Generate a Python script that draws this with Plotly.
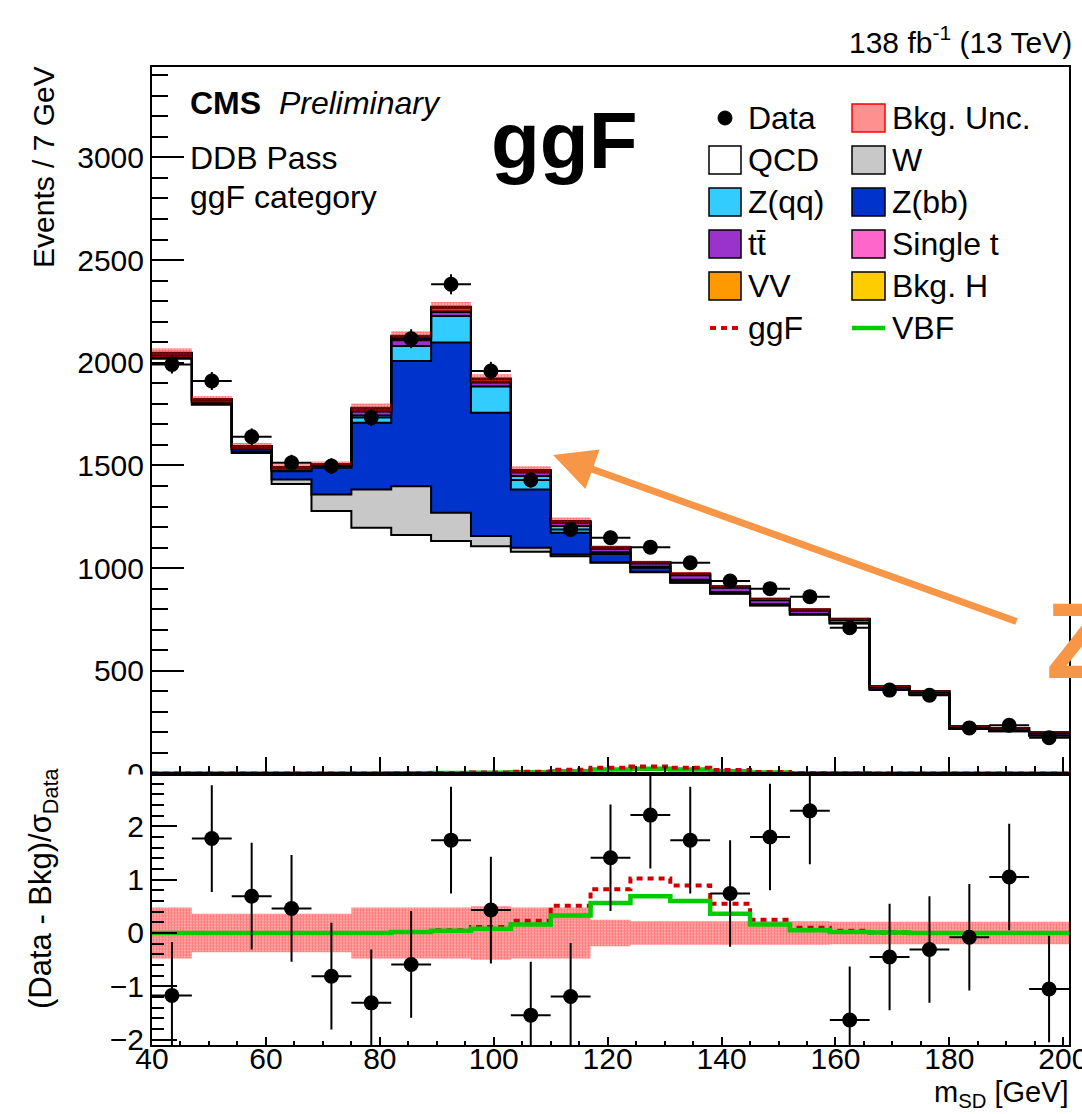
import numpy as np
import plotly.graph_objects as go

# ---------------------------------------------------------------- data
edges = list(range(40, 202, 7))                      # 23 bins of 7 GeV
centers = [e + 3.5 for e in edges[:-1]]
half_width = [3.5] * len(centers)

data_counts = [1992, 1911, 1640, 1513, 1497, 1733, 2117, 2382, 1960, 1429, 1188, 1148,
               1102, 1026, 937, 900, 861, 710, 406, 381, 222, 235, 174]

# background templates (stacked bottom -> top)
qcd = [2020, 1795, 1560, 1409, 1278, 1197, 1161, 1132, 1107, 1080, 1058, 1026,
       980, 929, 875, 818, 774, 731, 409, 385, 218, 206, 185]
w_jets = [5, 5, 6, 22, 81, 186, 238, 138, 49, 19, 8, 3,
          2, 1, 1, 1, 0, 0, 0, 0, 0, 0, 0]
z_bb = [8, 8, 12, 41, 130, 325, 609, 828, 601, 284, 106, 40,
        20, 10, 6, 4, 2, 1, 1, 1, 1, 1, 1]
z_qq = [4, 3, 4, 5, 3, 35, 73, 129, 127, 65, 33, 8,
        5, 3, 2, 1, 1, 1, 0, 0, 0, 0, 0]
ttbar = [8, 8, 9, 10, 10, 20, 29, 20, 20, 18, 15, 17,
         16, 22, 20, 20, 16, 15, 11, 11, 8, 11, 11]
single_t = [2, 2, 2, 3, 2, 5, 5, 4, 4, 4, 4, 4,
            3, 5, 5, 5, 4, 3, 3, 3, 2, 3, 3]
diboson = [1, 1, 1, 1, 1, 8, 10, 14, 10, 5, 3, 2,
           1, 2, 1, 1, 1, 1, 0, 0, 0, 0, 0]
bkg_higgs = [1, 0, 0, 1, 0, 5, 6, 8, 5, 3, 2, 2,
             2, 2, 2, 1, 1, 1, 1, 1, 1, 1, 1]

# background uncertainty (events) and signal yields (events)
bkg_unc = [21, 16, 15, 14, 14, 20, 22, 23, 21, 18, 17, 8,
           7, 7, 6, 6, 6, 5, 4, 4, 3, 3, 3]
ggf_events = [0, 0, 0, 0, 0, 0, 1, 2, 5, 9, 18, 28, 34, 28, 17, 7, 3, 1, 0, 0, 0, 0, 0]
vbf_events = [0, 0, 0, 0, 0, 0, 1, 2, 4, 6, 11, 19, 23, 19, 11, 5, 1, 1, 0, 0, 0, 0, 0]

# lower panel: (Data - Bkg)/sigma_Data
pull = [-1.17, 1.77, 0.69, 0.46, -0.81, -1.31, -0.59, 1.74, 0.43, -1.54, -1.19, 1.41,
        2.21, 1.74, 0.74, 1.80, 2.29, -1.63, -0.45, -0.31, -0.08, 1.05, -1.05]
pull_err = [1.0] * len(pull)
unc_pull = [0.48, 0.36, 0.36, 0.36, 0.36, 0.48, 0.48, 0.48, 0.50, 0.48, 0.48, 0.25,
            0.22, 0.22, 0.22, 0.22, 0.22, 0.21, 0.21, 0.21, 0.21, 0.21, 0.21]
ggf_pull = [0, 0, 0, 0, 0, 0, 0.02, 0.05, 0.11, 0.23, 0.51, 0.82,
            1.02, 0.89, 0.55, 0.25, 0.10, 0.04, 0.01, 0, 0, 0, 0]
vbf_pull = [0, 0, 0, 0, 0, 0, 0.02, 0.04, 0.08, 0.16, 0.33, 0.56,
            0.69, 0.60, 0.36, 0.16, 0.05, 0.02, 0.01, 0, 0, 0, 0]

components = [
    ("QCD", qcd, "#FFFFFF"),
    ("W", w_jets, "#C8C8C8"),
    ("Z(bb)", z_bb, "#0033CC"),
    ("Z(qq)", z_qq, "#33CCFF"),
    ("tt", ttbar, "#9933CC"),
    ("Single t", single_t, "#FF66CC"),
    ("VV", diboson, "#FF9900"),
    ("Bkg. H", bkg_higgs, "#FFCC00"),
]

# ---------------------------------------------------------------- geometry
W, H = 1082, 1114
L, R, T, B = 152, 1069, 67, 1045          # plot frame in pixels
SPLIT = 773.5                              # boundary between the two pads
FONT = "Liberation Sans, Arial, Helvetica, sans-serif"
FS = 32          # text / legend
TICK_FS = 30     # axis tick labels
RED_DOT = "#CC0000"
GREEN = "#00CC00"
HATCH = dict(shape=".", fgcolor="#FF0000", bgcolor="rgba(0,0,0,0)", size=3, solidity=0.8)


def xp(px):
    return (px - L) / (R - L)


def yp(py):
    return (B - py) / (B - T)


def steps(vals):
    v = list(vals)
    return v + [v[-1]]


pad_split = yp(SPLIT)
fig = go.Figure()

# ---------------------------------------------------------------- stacked backgrounds
cum = np.zeros(len(centers))
for i, (name, vals, color) in enumerate(components):
    cum = cum + np.array(vals, dtype=float)
    fig.add_trace(go.Scatter(
        x=edges, y=steps(cum), mode="lines", line=dict(shape="hv", color="black", width=2),
        fill="tozeroy" if i == 0 else "tonexty", fillcolor=color,
        name=name, showlegend=False, hoverinfo="skip", xaxis="x", yaxis="y"))
total_bkg = cum

# background uncertainty band on top of the stack
lo = total_bkg - np.array(bkg_unc)
hi = total_bkg + np.array(bkg_unc)
fig.add_trace(go.Scatter(x=edges, y=steps(lo), mode="lines", line=dict(shape="hv", width=0),
                         showlegend=False, hoverinfo="skip", xaxis="x", yaxis="y"))
fig.add_trace(go.Scatter(
    x=edges, y=steps(hi), mode="lines", line=dict(shape="hv", width=0),
    fill="tonexty", fillcolor="rgba(0,0,0,0)", fillpattern=HATCH,
    showlegend=False, hoverinfo="skip", xaxis="x", yaxis="y"))

# signals in the upper pad
fig.add_trace(go.Scatter(x=edges, y=steps(vbf_events), mode="lines",
                         line=dict(shape="hv", color=GREEN, width=4.5),
                         showlegend=False, hoverinfo="skip", xaxis="x", yaxis="y"))
fig.add_trace(go.Scatter(x=edges, y=steps(ggf_events), mode="lines",
                         line=dict(shape="hv", color=RED_DOT, width=4, dash="6px,5px"),
                         showlegend=False, hoverinfo="skip", xaxis="x", yaxis="y"))

# data
fig.add_trace(go.Scatter(
    x=centers, y=data_counts, mode="markers",
    marker=dict(color="black", size=15),
    error_x=dict(type="data", array=half_width, color="black", thickness=2, width=0),
    error_y=dict(type="data", array=np.sqrt(data_counts), color="black", thickness=2, width=0),
    showlegend=False, hoverinfo="skip", xaxis="x", yaxis="y"))

# ---------------------------------------------------------------- lower pad
ulo = -np.array(unc_pull)
uhi = np.array(unc_pull)
fig.add_trace(go.Scatter(x=edges, y=steps(ulo), mode="lines", line=dict(shape="hv", width=0),
                         showlegend=False, hoverinfo="skip", xaxis="x2", yaxis="y2"))
fig.add_trace(go.Scatter(
    x=edges, y=steps(uhi), mode="lines", line=dict(shape="hv", width=0),
    fill="tonexty", fillcolor="rgba(0,0,0,0)", fillpattern=HATCH,
    showlegend=False, hoverinfo="skip", xaxis="x2", yaxis="y2"))
fig.add_trace(go.Scatter(x=edges, y=steps(ggf_pull), mode="lines",
                         line=dict(shape="hv", color=RED_DOT, width=4, dash="6px,5px"),
                         showlegend=False, hoverinfo="skip", xaxis="x2", yaxis="y2"))
fig.add_trace(go.Scatter(x=edges, y=steps(vbf_pull), mode="lines",
                         line=dict(shape="hv", color=GREEN, width=4.5),
                         showlegend=False, hoverinfo="skip", xaxis="x2", yaxis="y2"))
fig.add_trace(go.Scatter(
    x=centers, y=pull, mode="markers",
    marker=dict(color="black", size=15),
    error_x=dict(type="data", array=half_width, color="black", thickness=2, width=0),
    error_y=dict(type="data", array=pull_err, color="black", thickness=2, width=0),
    showlegend=False, hoverinfo="skip", xaxis="x2", yaxis="y2"))

# ---------------------------------------------------------------- axes
frame = dict(showline=True, linecolor="black", linewidth=2, mirror=True,
             showgrid=False, zeroline=False, tickcolor="black", tickwidth=2,
             ticklabeloverflow="allow", automargin=False,
             tickfont=dict(family=FONT, size=TICK_FS, color="black"))

fig.update_layout(
    width=W, height=H,
    margin=dict(l=L, r=W - R, t=T, b=H - B),
    paper_bgcolor="white", plot_bgcolor="white",
    showlegend=False,
    xaxis=dict(frame, domain=[0, 1], anchor="y", range=[40, 201], showticklabels=False,
               ticks="inside", ticklen=17, tick0=40, dtick=20,
               minor=dict(ticks="inside", ticklen=8, dtick=5, tickcolor="black", tickwidth=2)),
    yaxis=dict(frame, domain=[pad_split, 1], anchor="x", range=[0, 3440],
               ticks="inside", ticklen=32, tick0=0, dtick=500,
               minor=dict(ticks="inside", ticklen=16, dtick=100, tickcolor="black", tickwidth=2)),
    xaxis2=dict(frame, domain=[0, 1], anchor="y2", range=[40, 201], matches="x",
                showticklabels=False,
                ticks="inside", ticklen=8, tick0=40, dtick=20,
                minor=dict(ticks="inside", ticklen=4, dtick=5, tickcolor="black", tickwidth=2)),
    # label-only axis sitting just above the lower frame, so the numbers hug the axis
    xaxis3=dict(overlaying="x2", anchor="free", position=yp(B - 7), range=[40, 201],
                showline=False, showgrid=False, zeroline=False, ticks="",
                tick0=40, dtick=20, ticklabeloverflow="allow", automargin=False,
                tickfont=dict(family=FONT, size=TICK_FS, color="black")),
    yaxis2=dict(frame, domain=[0, pad_split], anchor="x2", range=[-2.1, 2.99],
                ticks="inside", ticklen=25, tick0=0, dtick=1,
                minor=dict(ticks="inside", ticklen=12, dtick=0.2, tickcolor="black", tickwidth=2)),
)
# an empty trace keeps the label-only axis alive
fig.add_trace(go.Scatter(x=[], y=[], xaxis="x3", yaxis="y2", showlegend=False,
                         hoverinfo="skip"))

# ---------------------------------------------------------------- text
ann = []


def text(px, py, s, size=FS, xanchor="left", yanchor="middle", angle=0, color="black"):
    ann.append(dict(x=xp(px), y=yp(py), xref="paper", yref="paper", text=s, showarrow=False,
                    xanchor=xanchor, yanchor=yanchor, textangle=angle,
                    font=dict(family=FONT, size=size, color=color)))


text(188, 103, "<b>CMS</b>  <i>Preliminary</i>")
text(188, 158, "DDB Pass")
text(188, 197, "ggF category")
text(489, 140, "<b>ggF</b>", size=80)
text(1074, 40, "138 fb<sup>-1</sup> (13 TeV)", size=30, xanchor="right")
text(43, 64, "Events / 7 GeV", size=30, xanchor="center", yanchor="top", angle=-90)
text(43, 888, "(Data - Bkg)/σ<sub>Data</sub>", size=31, xanchor="center", angle=-90)
text(1071, 1094, "m<sub>SD</sub> [GeV]", size=29, xanchor="right")
text(1044, 640, "<b>Z</b>", size=108, color="#F79646")

# arrow pointing at the Z peak
ann.append(dict(x=xp(553), y=yp(455), xref="paper", yref="paper", text="", showarrow=True,
                ax=1018 - 553, ay=622 - 455, arrowhead=2, arrowsize=1.2, arrowwidth=7,
                arrowcolor="#F79646"))

# ---------------------------------------------------------------- legend
shapes = []
rows = [118, 160, 202, 244, 286, 328]
col1_box, col2_box = (709, 741), (852, 885)
col1_txt, col2_txt = 746, 890
legend_entries = [
    ("Data", "Bkg. Unc."),
    ("QCD", "W"),
    ("Z(qq)", "Z(bb)"),
    ("tt\u0304", "Single t"),
    ("VV", "Bkg. H"),
    ("ggF", "VBF"),
]
colors = {name: color for name, _, color in components}
colors["tt\u0304"] = colors["tt"]


def box(x0, x1, yc, fill, line="black", lw=1.5):
    shapes.append(dict(type="rect", xref="paper", yref="paper",
                       x0=xp(x0), x1=xp(x1), y0=yp(yc + 14), y1=yp(yc - 14),
                       fillcolor=fill, line=dict(color=line, width=lw), layer="above"))


for yc, (left, right) in zip(rows, legend_entries):
    text(col1_txt, yc, left)
    text(col2_txt, yc, right)
    if left in colors:
        box(*col1_box, yc, colors[left])
    if right in colors:
        box(*col2_box, yc, colors[right])

# data marker, uncertainty swatch and signal lines
shapes.append(dict(type="circle", xref="paper", yref="paper",
                   x0=xp(718), x1=xp(732), y0=yp(125), y1=yp(111),
                   fillcolor="black", line=dict(color="black", width=1), layer="above"))
box(*col2_box, rows[0], "rgba(255,70,70,0.6)", line="#FF0000", lw=1.5)
shapes.append(dict(type="line", xref="paper", yref="paper", x0=xp(710), x1=xp(743),
                   y0=yp(rows[5]), y1=yp(rows[5]),
                   line=dict(color=RED_DOT, width=4, dash="6px,5px"), layer="above"))
shapes.append(dict(type="line", xref="paper", yref="paper", x0=xp(852), x1=xp(885),
                   y0=yp(rows[5]), y1=yp(rows[5]),
                   line=dict(color=GREEN, width=4.5), layer="above"))

# lower pad covers the bottom half of the upper pad's zero label
shapes.append(dict(type="rect", xref="paper", yref="paper", x0=xp(90), x1=xp(149),
                   y0=yp(800), y1=yp(SPLIT + 1), fillcolor="white", line=dict(width=0),
                   layer="above"))

fig.update_layout(annotations=ann, shapes=shapes)
fig.write_html("out.html")
